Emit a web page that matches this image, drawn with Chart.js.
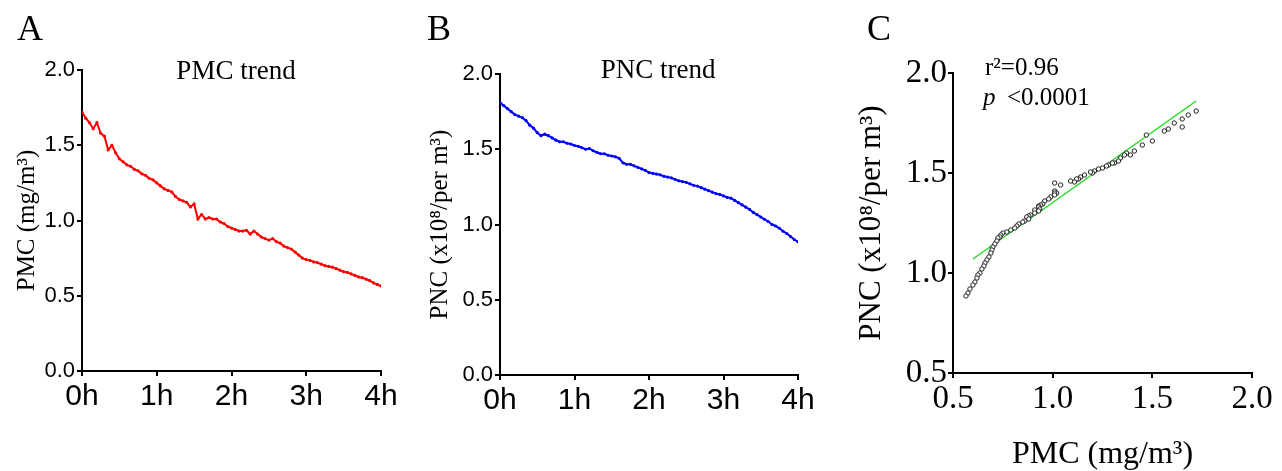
<!DOCTYPE html>
<html>
<head>
<meta charset="utf-8">
<script src="https://cdn.jsdelivr.net/npm/chart.js@4.4.1/dist/chart.umd.min.js"></script>
<style>
    body { margin: 0; background: #fff; width: 1282px; height: 471px; position: relative; overflow: hidden; }
    canvas { position: absolute; top: 0; }
</style>
</head>
<body>
<canvas id="chartA" width="420" height="471" style="left:0px"></canvas>
<canvas id="chartB" width="430" height="471" style="left:420px"></canvas>
<canvas id="chartC" width="432" height="471" style="left:850px"></canvas>
<script>
// sampling times (minutes)
var minutes = [0, 3, 6, 9, 12, 15, 18, 21, 24, 27, 30, 33, 36, 39, 42, 45, 48, 51, 54, 57,
    60, 63, 66, 69, 72, 75, 78, 81, 84, 87, 90, 93, 96, 99, 102, 105, 108, 111, 114, 117,
    120, 123, 126, 129, 132, 135, 138, 141, 144, 147, 150, 153, 156, 159, 162, 165, 168, 171, 174, 177,
    180, 183, 186, 189, 192, 195, 198, 201, 204, 207, 210, 213, 216, 219, 222, 225, 228, 231, 234, 237, 240];

// PMC (mg/m3)
var pmc = [1.72, 1.68, 1.65, 1.61, 1.65, 1.58, 1.56, 1.47, 1.50, 1.45,
    1.41, 1.39, 1.37, 1.36, 1.34, 1.33, 1.31, 1.30, 1.28, 1.27,
    1.25, 1.23, 1.21, 1.20, 1.19, 1.16, 1.14, 1.13, 1.12, 1.09,
    1.11, 1.01, 1.04, 1.01, 1.02, 1.01, 1.01, 0.99, 0.98, 0.96,
    0.95, 0.94, 0.93, 0.93, 0.935, 0.91, 0.93, 0.91, 0.89, 0.88,
    0.87, 0.88, 0.86, 0.85, 0.83, 0.82, 0.81, 0.79, 0.77, 0.75,
    0.74, 0.735, 0.725, 0.72, 0.71, 0.70, 0.695, 0.69, 0.68, 0.67,
    0.66, 0.655, 0.645, 0.635, 0.625, 0.62, 0.61, 0.60, 0.585, 0.575,
    0.565];

// PNC (x10^8 per m3)
var pnc = [1.81, 1.79, 1.77, 1.75, 1.73, 1.72, 1.71, 1.69, 1.66, 1.64,
    1.61, 1.59, 1.60, 1.59, 1.575, 1.56, 1.55, 1.55, 1.54, 1.535,
    1.525, 1.52, 1.51, 1.50, 1.505, 1.49, 1.48, 1.47, 1.47, 1.46,
    1.455, 1.45, 1.44, 1.41, 1.40, 1.40, 1.39, 1.38, 1.37, 1.36,
    1.345, 1.34, 1.335, 1.33, 1.32, 1.315, 1.31, 1.30, 1.29, 1.285,
    1.28, 1.27, 1.26, 1.255, 1.245, 1.235, 1.225, 1.215, 1.205, 1.20,
    1.19, 1.18, 1.175, 1.16, 1.145, 1.13, 1.115, 1.10, 1.08, 1.065,
    1.05, 1.035, 1.02, 1.00, 0.99, 0.975, 0.955, 0.94, 0.92, 0.90,
    0.885];

var hourLabels = ["0h", "1h", "2h", "3h", "4h"];

// regression line in panel C
var fitX = [0.6, 1.72];
var fitY = [1.07, 1.86];
var fitText = ["r\u00b2=0.96", "<0.0001"];

var SERIF = "'Liberation Serif', 'Times New Roman', serif";
var SANS = "'Liberation Sans', Arial, sans-serif";

var panelText = {
    id: "panelText",
    afterDraw: function (chart, args, opts) {
        var ctx = chart.ctx;
        ctx.save();
        ctx.fillStyle = "#000";
        ctx.textBaseline = "alphabetic";
        (opts.items || []).forEach(function (it) {
            ctx.font = it.font;
            ctx.textAlign = it.align || "left";
            ctx.fillText(it.text, it.x, it.y);
        });
        ctx.restore();
    }
};
Chart.register(panelText);

function axisGrid() {
    return { drawOnChartArea: false, drawTicks: true, tickLength: 5, color: "#000", lineWidth: 2 };
}

function trendChart(id, values, color, box, yTitle, items) {
    var pts = minutes.map(function (m, i) { return { x: m, y: values[i] }; });
    return new Chart(document.getElementById(id), {
        type: "line",
        data: {
            datasets: [{
                data: pts,
                borderColor: color,
                backgroundColor: color,
                borderWidth: 2,
                pointRadius: 1.6,
                pointBorderWidth: 0,
                tension: 0
            }]
        },
        options: {
            responsive: false,
            animation: false,
            devicePixelRatio: 1,
            layout: { padding: { left: 0, top: box.top, right: box.right, bottom: 0 } },
            plugins: {
                legend: { display: false },
                tooltip: { enabled: false },
                panelText: { items: items }
            },
            scales: {
                x: {
                    type: "linear",
                    min: 0,
                    max: 240,
                    grid: axisGrid(),
                    border: { color: "#000", width: 2 },
                    ticks: {
                        stepSize: 60,
                        color: "#000",
                        padding: 3,
                        maxRotation: 0,
                        font: { family: SANS, size: 30, lineHeight: 1.2 },
                        callback: function (v) { return hourLabels[v / 60]; }
                    },
                    afterFit: function (s) { s.height = box.xh; }
                },
                y: {
                    min: 0,
                    max: 2,
                    grid: axisGrid(),
                    border: { color: "#000", width: 2 },
                    ticks: {
                        stepSize: 0.5,
                        color: "#000",
                        padding: 2,
                        font: { family: SANS, size: 22 },
                        callback: function (v) { return v.toFixed(1); }
                    },
                    title: {
                        display: true,
                        text: yTitle,
                        color: "#000",
                        padding: { top: box.tp, bottom: 0 },
                        font: { family: SERIF, size: 25, lineHeight: 1.2 }
                    },
                    afterFit: function (s) { s.width = box.yw; }
                }
            }
        }
    });
}

trendChart("chartA", pmc, "#ff0000",
    { top: 70, right: 39, xh: 100, yw: 82, tp: 12 },
    "PMC (mg/m\u00b3)",
    [
        { text: "A", font: "36px " + SERIF, x: 17, y: 40 },
        { text: "PMC trend", font: "27px " + SERIF, x: 236, y: 79, align: "center" }
    ]);

trendChart("chartB", pnc, "#0000ff",
    { top: 74, right: 52, xh: 96, yw: 80, tp: 5 },
    "PNC (x10\u2078/per m\u00b3)",
    [
        { text: "B", font: "36px " + SERIF, x: 7, y: 40 },
        { text: "PNC trend", font: "27px " + SERIF, x: 238, y: 78, align: "center" }
    ]);

var scatterPts = pmc.map(function (v, i) { return { x: v, y: pnc[i] }; });

new Chart(document.getElementById("chartC"), {
    type: "scatter",
    data: {
        datasets: [
            {
                data: scatterPts,
                pointRadius: 2.2,
                borderWidth: 1,
                borderColor: "#222",
                backgroundColor: "#fff",
                order: 1
            },
            {
                type: "line",
                data: fitX.map(function (x, i) { return { x: x, y: fitY[i] }; }),
                borderColor: "#22dd22",
                borderWidth: 1.5,
                pointRadius: 0,
                order: 2
            }
        ]
    },
    options: {
        responsive: false,
        animation: false,
        devicePixelRatio: 1,
        layout: { padding: { left: 0, top: 73, right: 30, bottom: 0 } },
        plugins: {
            legend: { display: false },
            tooltip: { enabled: false },
            panelText: {
                items: [
                    { text: "C", font: "36px " + SERIF, x: 17, y: 40 },
                    { text: fitText[0], font: "25px " + SERIF, x: 135, y: 75 },
                    { text: "p", font: "italic 25px " + SERIF, x: 133, y: 105 },
                    { text: fitText[1], font: "25px " + SERIF, x: 157, y: 105 }
                ]
            }
        },
        scales: {
            x: {
                type: "linear",
                min: 0.5,
                max: 2.0,
                grid: axisGrid(),
                border: { color: "#000", width: 2 },
                ticks: {
                    stepSize: 0.5,
                    color: "#000",
                    padding: 5,
                    maxRotation: 0,
                    font: { family: SERIF, size: 33, lineHeight: 1 },
                    callback: function (v) { return v.toFixed(1); }
                },
                title: {
                    display: true,
                    text: "PMC (mg/m\u00b3)",
                    color: "#000",
                    padding: { top: 0, bottom: 0 },
                    font: { family: SERIF, size: 32, lineHeight: 1 }
                },
                afterFit: function (s) { s.height = 98; }
            },
            y: {
                min: 0.5,
                max: 2.0,
                grid: axisGrid(),
                border: { color: "#000", width: 2 },
                ticks: {
                    stepSize: 0.5,
                    color: "#000",
                    padding: 1,
                    font: { family: SERIF, size: 33 },
                    callback: function (v) { return v.toFixed(1); }
                },
                title: {
                    display: true,
                    text: "PNC (x10\u2078/per m\u00b3)",
                    color: "#000",
                    padding: { top: 3, bottom: 0 },
                    font: { family: SERIF, size: 31, lineHeight: 1.2 }
                },
                afterFit: function (s) { s.width = 103; }
            }
        }
    }
});
</script>
</body>
</html>
